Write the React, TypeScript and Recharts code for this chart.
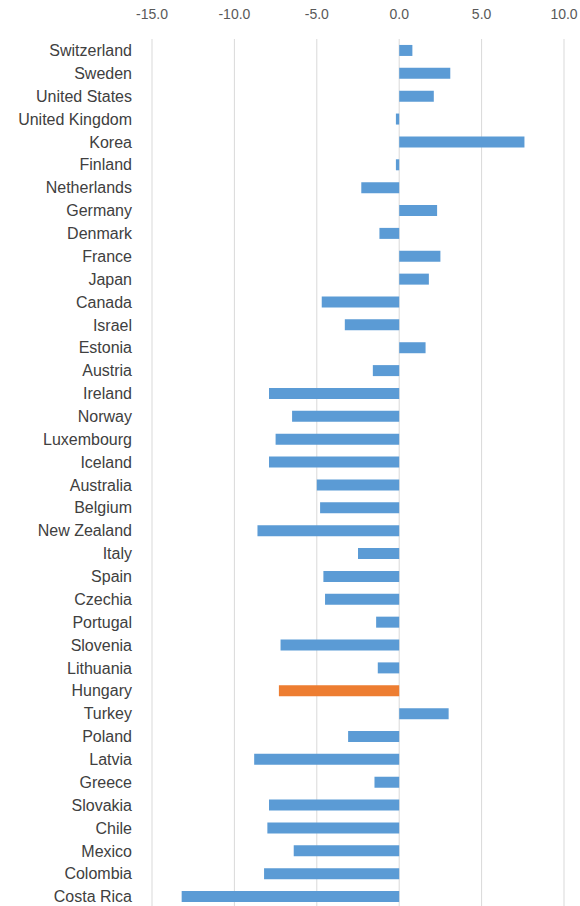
import { Bar, BarChart, CartesianGrid, Cell, XAxis, YAxis } from "recharts";

const countries = [
  "Switzerland", "Sweden", "United States", "United Kingdom", "Korea", "Finland",
  "Netherlands", "Germany", "Denmark", "France", "Japan", "Canada", "Israel",
  "Estonia", "Austria", "Ireland", "Norway", "Luxembourg", "Iceland", "Australia",
  "Belgium", "New Zealand", "Italy", "Spain", "Czechia", "Portugal", "Slovenia",
  "Lithuania", "Hungary", "Turkey", "Poland", "Latvia", "Greece", "Slovakia",
  "Chile", "Mexico", "Colombia", "Costa Rica",
];

const values = [
  0.8, 3.1, 2.1, -0.2, 7.6, -0.2,
  -2.3, 2.3, -1.2, 2.5, 1.8, -4.7, -3.3,
  1.6, -1.6, -7.9, -6.5, -7.5, -7.9, -5.0,
  -4.8, -8.6, -2.5, -4.6, -4.5, -1.4, -7.2,
  -1.3, -7.3, 3.0, -3.1, -8.8, -1.5, -7.9,
  -8.0, -6.4, -8.2, -13.2,
];

const xTicks = [-15, -10, -5, 0, 5, 10];
const highlight = "Hungary";

const data = countries.map((name, i) => ({ name, value: values[i] }));

const blue = "#5b9bd5";
const orange = "#ed7d31";

export default function App() {
  return (
    <div style={{ position: "absolute", left: 0, top: 0, background: "#fff" }}>
      <BarChart
        width={580}
        height={908}
        data={data}
        layout="vertical"
        margin={{ top: 0, right: 16, bottom: 0, left: 0 }}
        barCategoryGap="26%"
      >
        <CartesianGrid horizontal={false} stroke="#d9d9d9" />
        <XAxis
          type="number"
          orientation="top"
          domain={[-15, 10]}
          ticks={xTicks}
          height={39}
          axisLine={false}
          tickLine={false}
          tickSize={0}
          tickMargin={20}
          tickFormatter={(v: number) => v.toFixed(1)}
          tick={{ fill: "#595959", fontSize: 14, fontFamily: "Liberation Sans, Arial, sans-serif" }}
        />
        <YAxis
          type="category"
          dataKey="name"
          width={152}
          axisLine={false}
          tickLine={false}
          tickSize={0}
          tickMargin={20}
          interval={0}
          tick={{ fill: "#404040", fontSize: 16, fontFamily: "Liberation Sans, Arial, sans-serif" }}
        />
        <Bar dataKey="value" isAnimationActive={false}>
          {data.map((d) => (
            <Cell key={d.name} fill={d.name === highlight ? orange : blue} />
          ))}
        </Bar>
      </BarChart>
    </div>
  );
}
